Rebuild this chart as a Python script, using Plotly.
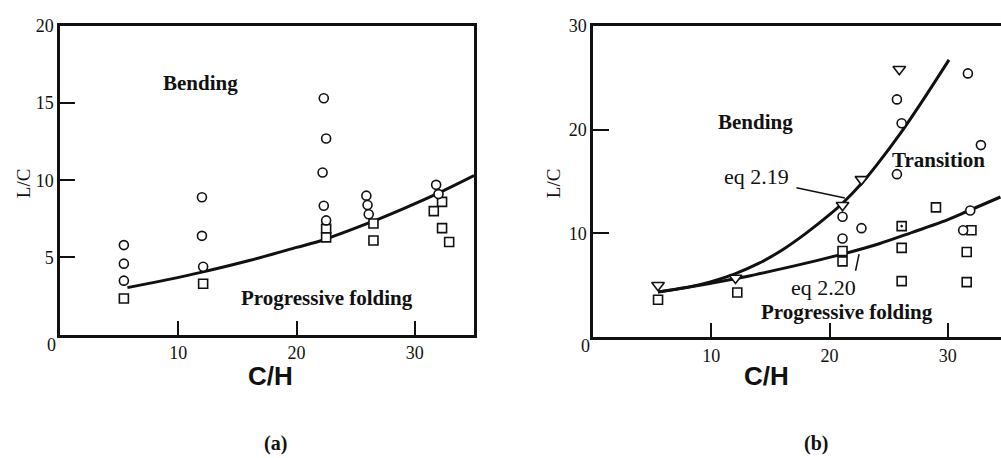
import plotly.graph_objects as go

# ---------------- Panel (a) data ----------------
a_circle_x = [5.4, 5.4, 5.4, 12.0, 12.0, 12.1, 22.3, 22.5, 22.2, 22.3, 22.5, 25.9, 26.0, 26.1, 31.8, 32.0]
a_circle_y = [5.8, 4.6, 3.5, 8.9, 6.4, 4.4, 15.3, 12.7, 10.5, 8.35, 7.4, 9.0, 8.4, 7.8, 9.7, 9.1]
a_square_x = [5.4, 12.1, 22.5, 22.5, 26.5, 26.5, 32.3, 31.6, 32.3, 32.9]
a_square_y = [2.35, 3.3, 6.85, 6.3, 7.2, 6.1, 8.6, 8.0, 6.9, 6.0]
a_curve_x = [5.7, 9, 12, 16, 20, 22.3, 26, 29, 31.8, 35]
a_curve_y = [3.05, 3.55, 4.05, 4.8, 5.65, 6.15, 7.2, 8.15, 9.1, 10.3]

# ---------------- Panel (b) data ----------------
b_circle_x = [25.7, 26.1, 31.7, 32.8, 25.7, 21.1, 22.7, 21.1, 31.9, 31.3]
b_circle_y = [22.9, 20.6, 25.4, 18.5, 15.7, 11.6, 10.5, 9.5, 12.2, 10.3]
b_triangle_x = [5.5, 12.05, 21.1, 22.7, 25.9]
b_triangle_y = [5.0, 5.7, 12.7, 15.2, 25.8]
b_square_x = [5.5, 12.2, 21.1, 21.1, 26.1, 26.1, 29.0, 32.0, 31.6, 31.6]
b_square_y = [3.6, 4.3, 8.3, 7.3, 8.6, 5.4, 12.5, 10.3, 8.2, 5.3]
b_squaredot_x = [26.1]
b_squaredot_y = [10.7]
eq219_x = [5.5, 8, 10, 12, 14, 16, 18, 20, 21.1, 22.7, 24, 26.1, 28, 30.1]
eq219_y = [4.35, 4.8, 5.35, 6.1, 7.1, 8.4, 10.0, 11.8, 12.9, 14.8, 16.6, 19.8, 23.0, 26.7]
eq220_x = [5.5, 8, 10, 13, 16, 19, 21.1, 24.2, 27, 29.5, 31.8, 34.45]
eq220_y = [4.35, 4.8, 5.2, 5.85, 6.6, 7.4, 8.0, 9.0, 10.1, 11.1, 12.2, 13.5]

SERIF = "Liberation Serif, Times New Roman, serif"
SANS = "Liberation Sans, Arial, sans-serif"
BLACK = "#111111"

fig = go.Figure()

def markers(x, y, symbol, size, xa, ya):
    fig.add_trace(go.Scatter(
        x=x, y=y, mode="markers", xaxis=xa, yaxis=ya, showlegend=False,
        marker=dict(symbol=symbol, size=size, color="white",
                    line=dict(color=BLACK, width=1.6)),
        cliponaxis=False))

def curve(x, y, xa, ya):
    fig.add_trace(go.Scatter(
        x=x, y=y, mode="lines", xaxis=xa, yaxis=ya, showlegend=False,
        line=dict(color=BLACK, width=3, shape="spline", smoothing=1.0)))

# Panel (a)
curve(a_curve_x, a_curve_y, "x", "y")
markers(a_square_x, a_square_y, "square", 9, "x", "y")
markers(a_circle_x, a_circle_y, "circle", 9, "x", "y")

# Panel (b)
curve(eq219_x, eq219_y, "x2", "y2")
curve(eq220_x, eq220_y, "x2", "y2")
markers(b_square_x, b_square_y, "square", 9, "x2", "y2")
fig.add_trace(go.Scatter(
    x=b_squaredot_x, y=b_squaredot_y, mode="markers", xaxis="x2", yaxis="y2", showlegend=False,
    marker=dict(symbol="square-open-dot", size=9, color=BLACK, line=dict(color=BLACK, width=1.6))))
markers(b_circle_x, b_circle_y, "circle", 9, "x2", "y2")
markers(b_triangle_x, b_triangle_y, "triangle-down", 11, "x2", "y2")

W, H = 1001, 458
def px(xp):
    return xp / W
def py(yp):
    return 1 - yp / H

axis_common = dict(showgrid=False, zeroline=False, showline=True, linecolor=BLACK,
                   linewidth=2.5, ticks="inside", tickwidth=2, tickcolor=BLACK,
                   tickfont=dict(family=SERIF, size=18, color=BLACK))

fig.update_layout(
    width=W, height=H, margin=dict(l=0, r=0, t=0, b=0),
    paper_bgcolor="white", plot_bgcolor="white",
    xaxis=dict(domain=[px(60), px(474)], range=[0, 35], tickvals=[10, 20, 30],
               ticklen=14, mirror=True, anchor="y", **axis_common),
    yaxis=dict(domain=[py(332), py(16)], range=[0, 20], tickvals=[5, 10, 15, 20],
               ticklen=15, mirror=True, anchor="x", **axis_common),
    xaxis2=dict(domain=[px(593), 1.0], range=[0, 34.5], tickvals=[10, 20, 30],
                ticklen=14, mirror=True, anchor="y2", **axis_common),
    yaxis2=dict(domain=[py(334.5), py(16)], range=[0, 30], tickvals=[10, 20, 30],
                ticklen=16, mirror=False, anchor="x2", **axis_common),
)

ann = []
def txt(text, x, y, xref, yref, size, family=SERIF, bold=False, angle=0, xanchor="center", yanchor="middle"):
    t = f"<b>{text}</b>" if bold else text
    ann.append(dict(text=t, x=x, y=y, xref=xref, yref=yref, showarrow=False,
                    font=dict(family=family, size=size, color=BLACK), textangle=angle,
                    xanchor=xanchor, yanchor=yanchor))

# corner zeros
txt("0", px(51), py(342), "paper", "paper", 18)
txt("0", px(585), py(344), "paper", "paper", 18)

# axis titles
txt("L/C", px(23), py(177), "paper", "paper", 19, angle=-90)
txt("L/C", px(553), py(177), "paper", "paper", 19, angle=-90)
txt("C/H", px(270), py(374.5), "paper", "paper", 26, family=SANS, bold=True)
txt("C/H", px(766), py(374.5), "paper", "paper", 26, family=SANS, bold=True)
txt("(a)", px(275.5), py(443), "paper", "paper", 20, bold=True)
txt("(b)", px(816), py(443), "paper", "paper", 20, bold=True)

# region labels panel (a)
txt("Bending", 11.9, 16.3, "x", "y", 21, bold=True)
txt("Progressive folding", 22.6, 2.35, "x", "y", 21, bold=True)

# region labels panel (b)
txt("Bending", 13.75, 20.7, "x2", "y2", 21, bold=True)
txt("eq 2.19", 13.8, 15.5, "x2", "y2", 22)
txt("Transition", 29.2, 17.1, "x2", "y2", 21, bold=True)
txt("eq 2.20", 19.5, 4.75, "x2", "y2", 22)
txt("Progressive folding", 21.5, 2.4, "x2", "y2", 21, bold=True)

fig.update_layout(annotations=ann)

# leader lines
fig.add_shape(type="line", xref="x2", yref="y2", x0=17.2, y0=14.4, x1=21.3, y1=13.4,
              line=dict(color=BLACK, width=1.5))
fig.add_shape(type="line", xref="x2", yref="y2", x0=22.2, y0=6.4, x1=22.5, y1=8.0,
              line=dict(color=BLACK, width=1.5))

fig.write_html("out.html")
